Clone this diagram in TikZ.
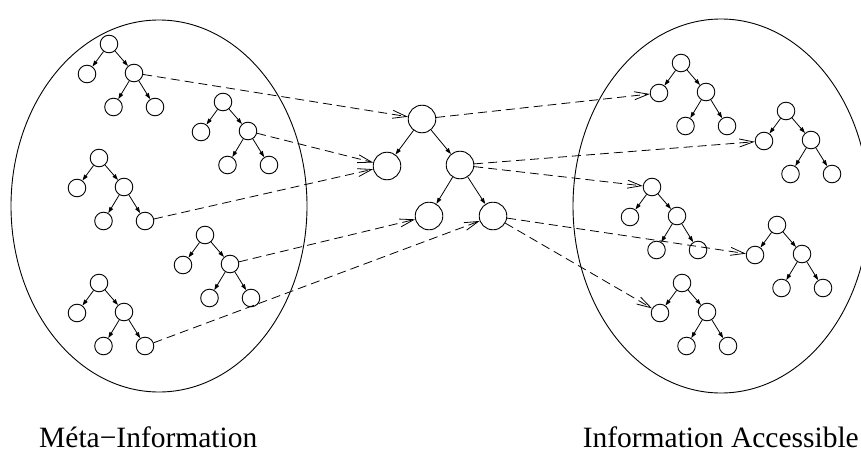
\documentclass[tikz,border=0pt]{standalone}
\usepackage{fontspec}
\setmainfont{Liberation Serif}
\usetikzlibrary{arrows.meta}
\tikzset{
  sc/.style={circle, draw, line width=0.9pt, minimum size=17.6pt, inner sep=0pt},
  bc/.style={circle, draw, line width=0.9pt, minimum size=27.6pt, inner sep=0pt},
  tedge/.style={line width=0.8pt, -{Triangle[length=6pt,width=4pt]}},
  link/.style={line width=0.8pt, dash pattern=on 9pt off 5pt, -{Straight Barb[length=14pt,width=8pt]}},
  lbl/.style={font=\fontsize{29.5}{33}\selectfont, inner sep=0pt},
  oval/.style={draw, line width=0.9pt}
}
\newcommand{\drawtree}[3]{%
  \node[sc] (#1r) at (#2,#3) {};
  \node[sc] (#1a) at (#2-22,#3+30) {};
  \node[sc] (#1b) at (#2+25,#3+29) {};
  \node[sc] (#1c) at (#2+4.5,#3+63) {};
  \node[sc] (#1d) at (#2+46,#3+63) {};
  \draw[tedge] (#1r) -- (#1a);
  \draw[tedge] (#1r) -- (#1b);
  \draw[tedge] (#1b) -- (#1c);
  \draw[tedge] (#1b) -- (#1d);
}
\begin{document}
\begin{tikzpicture}[x=1pt,y=-1pt]
\useasboundingbox (0,0) rectangle (861,452);
% ellipses
\draw[oval] (159,206) ellipse [x radius=148, y radius=186];
\draw[oval] (721,206) ellipse [x radius=148, y radius=187];
% left trees
\drawtree{la}{109}{44}
\drawtree{lb}{223}{102}
\drawtree{lc}{99}{158}
\drawtree{ld}{205}{235}
\drawtree{le}{99}{283}
% right trees
\drawtree{ra}{681}{63}
\drawtree{rb}{786}{111}
\drawtree{rc}{652}{187}
\drawtree{rd}{777}{225}
\drawtree{re}{682}{283}
% central tree
\node[bc] (cr) at (422,119) {};
\node[bc] (ca) at (387,166) {};
\node[bc] (cb) at (460,165) {};
\node[bc] (cc) at (429,216) {};
\node[bc] (cd) at (493,216) {};
\draw[tedge] (cr) -- (ca);
\draw[tedge] (cr) -- (cb);
\draw[tedge] (cb) -- (cc);
\draw[tedge] (cb) -- (cd);
% links in
\draw[link] (lab) -- (cr);
\draw[link] (lbb) -- (ca);
\draw[link] (lcd) -- (ca);
\draw[link] (ldb) -- (cc);
\draw[link] (led) -- (cd);
% links out
\draw[link] (cr) -- (raa);
\draw[link] (cb) -- (rba);
\draw[link] (cb) -- (rcr);
\draw[link] (cd) -- (rda);
\draw[link] (cd) -- (rea);
% labels
\node[lbl, anchor=base west] (lt) at (39,447) {Méta−Information};
\node[lbl, anchor=base east] (rt) at (859,447) {Information Accessible};
\end{tikzpicture}
\end{document}
